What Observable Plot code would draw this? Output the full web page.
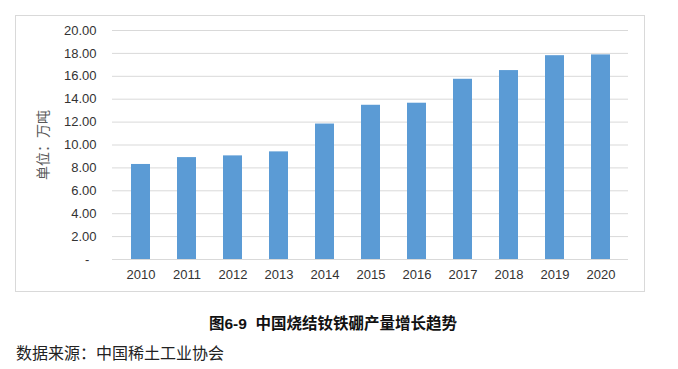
<!DOCTYPE html>
<html>
<head>
<meta charset="utf-8">
<script src="https://cdn.jsdelivr.net/npm/d3@7"></script>
<script src="https://cdn.jsdelivr.net/npm/@observablehq/plot@0.6"></script>
<style>
  html, body { margin: 0; padding: 0; background: #fff; }
  body { width: 678px; height: 369px; position: relative; overflow: hidden; }
  #box { position: absolute; left: 15px; top: 15px; width: 630px; height: 277px; box-sizing: border-box; border: 1px solid #d9d9d9; }
  #box svg { display: block; }
  #title { position: absolute; left: 15px; width: 636px; top: 311px; text-align: center; font: bold 15.5px "Liberation Sans", "Noto Sans CJK SC", sans-serif; color: #111; }
  #caption { position: absolute; left: 16px; top: 340px; font: 16px "Noto Sans CJK SC", sans-serif; color: #222; }
</style>
</head>
<body>
<div id="box"></div>
<div id="title">图6-9&nbsp; 中国烧结钕铁硼产量增长趋势</div>
<div id="caption">数据来源：中国稀土工业协会</div>
<script>
const years = ["2010","2011","2012","2013","2014","2015","2016","2017","2018","2019","2020"];
const output = [8.3, 8.9, 9.05, 9.4, 11.83, 13.47, 13.65, 15.74, 16.5, 17.8, 17.87];
const yTicks = [0, 2, 4, 6, 8, 10, 12, 14, 16, 18, 20];
const yLabel = "单位：万吨";

const data = years.map((y, i) => ({year: y, value: output[i]}));

const chart = Plot.plot({
  width: 628,
  height: 275,
  marginLeft: 96,
  marginRight: 16,
  marginTop: 14,
  marginBottom: 32,
  style: {fontFamily: "Liberation Sans, Arial, sans-serif", fontSize: "13px", color: "#333", background: "#fff"},
  x: {domain: years, paddingInner: 0.59, paddingOuter: 0.295, label: null},
  y: {domain: [0, 20], label: null},
  marks: [
    Plot.gridY(yTicks, {stroke: "#d9d9d9", strokeOpacity: 1, strokeWidth: 1}),
    Plot.barY(data, {x: "year", y: "value", fill: "#5b9bd5"}),
    Plot.axisY(yTicks, {tickSize: 0, tickPadding: 16, tickFormat: d => d === 0 ? "-\u00a0\u00a0" : d.toFixed(2), fill: "#333", label: null}),
    Plot.axisX({tickSize: 0, tickPadding: 10, fill: "#333", label: null}),
    Plot.text([yLabel], {frameAnchor: "left", rotate: -90, dx: -69, textAnchor: "middle", lineAnchor: "middle", fontSize: 14, fill: "#595959", fontFamily: "Noto Sans CJK SC, sans-serif"})
  ]
});
document.getElementById("box").appendChild(chart);
</script>
</body>
</html>
